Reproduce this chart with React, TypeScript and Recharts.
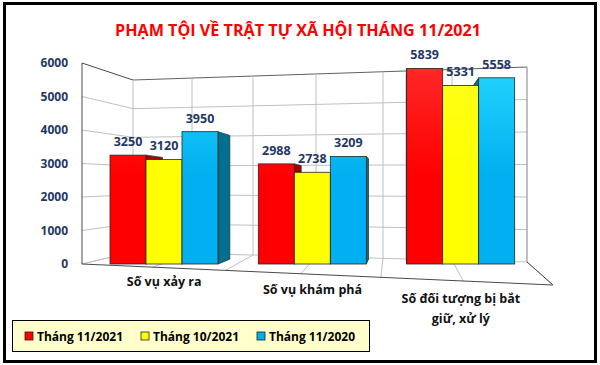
import React from "react";
import { BarChart, Bar, XAxis, YAxis, LabelList, Legend } from "recharts";

// ---------- data ----------
const title = "PHẠM TỘI VỀ TRẬT TỰ XÃ HỘI THÁNG 11/2021";
const categories = ["Số vụ xảy ra", "Số vụ khám phá", "Số đối tượng bị bắt giữ, xử lý"];
const seriesNames = ["Tháng 11/2021", "Tháng 10/2021", "Tháng 11/2020"];
const valuesNov2021 = [3250, 2988, 5839];
const valuesOct2021 = [3120, 2738, 5331];
const valuesNov2020 = [3950, 3209, 5558];
const yTicks = [0, 1000, 2000, 3000, 4000, 5000, 6000];

const data = categories.map((name, i) => ({
  name,
  s1: valuesNov2021[i],
  s2: valuesOct2021[i],
  s3: valuesNov2020[i],
}));

// ---------- style ----------
const FONT = "'Open Sans', 'Noto Sans', sans-serif";
const NAVY = "#1f3864";
const series = [
  { key: "s1", name: seriesNames[0], front: "#ff0000", light: "#ff2a2a", side: "#a00000" },
  { key: "s2", name: seriesNames[1], front: "#ffff00", light: "#ffff1a", side: "#a3a300" },
  { key: "s3", name: seriesNames[2], front: "#00b0f0", light: "#26d6ff", side: "#00708f" },
];

const W = 600;
const H = 365;
const PLOT_TOP = 63;
const PLOT_BOTTOM = 264;
const Y_MAX = 6000;

// 3D wall decoration geometry
const FRONT_X = 82;
const BACK_L = { x: 133, y0: 252, yTop: 80 };
const BACK_R = { x: 527, y0: 262, yTop: 67 };
const FLOOR_FR = { x: 553, y: 285 };
const backVerticals = [133, 192, 253, 316, 383, 452, 527];

// perspective for bar side faces
const VX = 400;
const VY = 190;
const DEPTH = 0.065;

const frontY = (v: number) => PLOT_BOTTOM - (v / Y_MAX) * (PLOT_BOTTOM - PLOT_TOP);
const backLY = (v: number) => BACK_L.y0 - (v / Y_MAX) * (BACK_L.y0 - BACK_L.yTop);
const backRY = (v: number) => BACK_R.y0 - (v / Y_MAX) * (BACK_R.y0 - BACK_R.yTop);
const backAt = (x: number, v: number) =>
  backLY(v) + ((x - BACK_L.x) / (BACK_R.x - BACK_L.x)) * (backRY(v) - backLY(v));

function Walls() {
  const gray = "#c0c0c0";
  const dark = "#4a4a4a";
  return (
    <svg width={W} height={H} style={{ position: "absolute", left: 0, top: 0 }}>
      <defs>
        {series.map((s) => (
          <linearGradient key={s.key} id={"grad-" + s.key} gradientUnits="userSpaceOnUse" x1={0} y1={60} x2={0} y2={270}>
            <stop offset="0" stopColor={s.light} />
            <stop offset="0.55" stopColor={s.front} />
            <stop offset="1" stopColor={s.front} />
          </linearGradient>
        ))}
      </defs>
      <text
        x={298}
        y={36}
        textAnchor="middle"
        fontFamily={FONT}
        fontWeight={700}
        fontSize={16}
        fill="#ff0000"
        textLength={366}
        lengthAdjust="spacingAndGlyphs"
      >
        {title}
      </text>
      {/* floor grid */}
      {backVerticals.map((bx, i) => {
        const fx = FRONT_X + ((bx - BACK_L.x) / (BACK_R.x - BACK_L.x)) * (FLOOR_FR.x - FRONT_X);
        const fyy = PLOT_BOTTOM + ((fx - FRONT_X) / (FLOOR_FR.x - FRONT_X)) * (FLOOR_FR.y - PLOT_BOTTOM);
        return <line key={"fl" + i} x1={bx} y1={backAt(bx, 0)} x2={fx} y2={fyy} stroke={gray} strokeWidth={1} />;
      })}
      {/* left wall */}
      {yTicks.map((t) => (
        <line
          key={"lw" + t}
          x1={FRONT_X}
          y1={frontY(t)}
          x2={BACK_L.x}
          y2={backLY(t)}
          stroke={t === Y_MAX ? dark : gray}
          strokeWidth={1}
        />
      ))}
      {/* back wall */}
      {yTicks.map((t) => (
        <line
          key={"bw" + t}
          x1={BACK_L.x}
          y1={backLY(t)}
          x2={BACK_R.x}
          y2={backRY(t)}
          stroke={t === Y_MAX ? "#606060" : gray}
          strokeWidth={1}
        />
      ))}
      {backVerticals.map((bx, i) => (
        <line
          key={"bv" + i}
          x1={bx}
          y1={backAt(bx, Y_MAX)}
          x2={bx}
          y2={backAt(bx, 0)}
          stroke={i === backVerticals.length - 1 ? "#808080" : gray}
          strokeWidth={1}
        />
      ))}
      <line x1={FRONT_X} y1={frontY(Y_MAX)} x2={FRONT_X} y2={frontY(0)} stroke={dark} strokeWidth={1} />
      <line x1={FRONT_X} y1={frontY(0)} x2={FLOOR_FR.x} y2={FLOOR_FR.y} stroke={dark} strokeWidth={1} />
      <line x1={BACK_R.x} y1={backRY(0)} x2={FLOOR_FR.x} y2={FLOOR_FR.y} stroke={dark} strokeWidth={1} />
    </svg>
  );
}

function SideFace(props: any) {
  const { x, y, width, height, color } = props;
  if (!height || height <= 0) return null;
  const cx = x + width / 2;
  const xe = cx > VX ? x : x + width;
  const b = y + height;
  const dx = (VX - xe) * DEPTH;
  const pts = [
    [xe, y],
    [xe + dx, y + (VY - y) * DEPTH],
    [xe + dx, b + (VY - b) * DEPTH],
    [xe, b],
  ]
    .map((p) => p.join(","))
    .join(" ");
  return <polygon points={pts} fill={color} stroke="#2a2a2a" strokeWidth={0.7} />;
}

function FrontFace(props: any) {
  const { x, y, width, height, gradId } = props;
  if (!height || height <= 0) return null;
  return (
    <rect x={x} y={y} width={width} height={height} fill={`url(#${gradId})`} stroke="#262626" strokeWidth={0.8} />
  );
}

function wrapWords(text: string, maxChars: number) {
  const words = text.split(" ");
  const lines: string[] = [];
  let cur = "";
  for (const w of words) {
    const next = cur ? cur + " " + w : w;
    if (next.length > maxChars && cur) {
      lines.push(cur);
      cur = w;
    } else {
      cur = next;
    }
  }
  if (cur) lines.push(cur);
  return lines;
}

function CategoryTick(props: any) {
  const { x, y, payload } = props;
  const lines = wrapWords(String(payload.value), 20);
  const base = y + 22 + (x - 164) * 0.056;
  return (
    <g>
      {lines.map((ln, i) => (
        <text
          key={i}
          x={x}
          y={base + i * 20}
          textAnchor="middle"
          fontFamily={FONT}
          fontWeight={700}
          fontSize={12.5}
          fill="#111"
        >
          {ln}
        </text>
      ))}
    </g>
  );
}

function LegendContent(props: any) {
  const payload = (props.payload || [])
    .filter((p: any) => p.type !== "none" && seriesNames.indexOf(p.value) >= 0)
    .slice()
    .sort((a: any, b: any) => seriesNames.indexOf(a.value) - seriesNames.indexOf(b.value));
  return (
    <svg width={358} height={32} style={{ display: "block" }}>
      <rect x={0.5} y={0.5} width={357} height={31} fill="#ffffcc" stroke="#000" strokeWidth={1} />
      {payload.map((p: any, i: number) => {
        const x0 = 13 + i * 116;
        return (
          <g key={i}>
            <rect x={x0} y={12} width={8} height={8} fill={p.color} stroke="#222" strokeWidth={0.8} />
            <text x={x0 + 12} y={21} fontFamily={FONT} fontWeight={700} fontSize={12} fill="#000">
              {p.value}
            </text>
          </g>
        );
      })}
    </svg>
  );
}

export default function App() {
  return (
    <div style={{ position: "absolute", left: 0, top: 0, width: W, height: H, background: "#fff" }}>
      <Walls />
      <div style={{ position: "absolute", left: 0, top: 0 }}>
        <BarChart
          width={W}
          height={H}
          data={data}
          margin={{ top: PLOT_TOP, right: 65, bottom: 71, left: 0 }}
          barGap={0}
          barSize={36}
        >
          <XAxis xAxisId="side" dataKey="name" hide />
          <XAxis
            dataKey="name"
            axisLine={false}
            tickLine={false}
            tickSize={0}
            tickMargin={0}
            height={30}
            interval={0}
            tick={<CategoryTick />}
          />
          <YAxis
            domain={[0, Y_MAX]}
            ticks={yTicks}
            axisLine={false}
            tickLine={false}
            tickSize={0}
            tickMargin={22}
            width={90}
            tick={{ fill: NAVY, fontSize: 12, fontWeight: 700, fontFamily: FONT }}
          />
          {series.map((s) => (
            <Bar
              key={"side-" + s.key}
              xAxisId="side"
              dataKey={s.key}
              legendType="none"
              fill={s.side}
              isAnimationActive={false}
              shape={(p: any) => <SideFace {...p} color={s.side} />}
            />
          ))}
          {series.map((s) => (
            <Bar
              key={s.key}
              dataKey={s.key}
              name={s.name}
              fill={s.front}
              isAnimationActive={false}
              shape={(p: any) => <FrontFace {...p} gradId={"grad-" + s.key} />}
            >
              <LabelList
                dataKey={s.key}
                position="top"
                offset={9}
                fill={NAVY}
                fontSize={12.5}
                fontWeight={700}
                fontFamily={FONT}
              />
            </Bar>
          ))}
          <Legend
            layout="vertical"
            align="center"
            verticalAlign="middle"
            wrapperStyle={{ left: 12, top: 320, width: 358, height: 32 }}
            content={LegendContent}
          />
        </BarChart>
      </div>
      <div
        style={{
          position: "absolute",
          left: 3,
          top: 2,
          width: 594,
          height: 361,
          border: "3px solid #000",
          boxSizing: "border-box",
          pointerEvents: "none",
        }}
      />
    </div>
  );
}
